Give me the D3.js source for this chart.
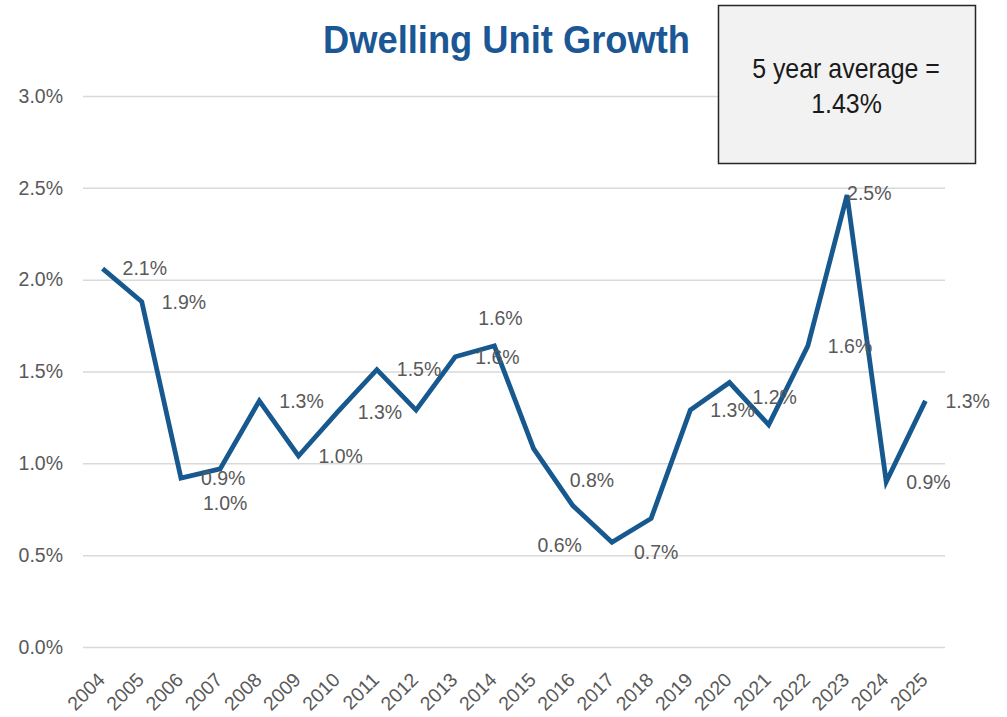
<!DOCTYPE html>
<html>
<head>
<meta charset="utf-8">
<script src="https://cdn.jsdelivr.net/npm/d3@7"></script>
<style>
  html, body { margin: 0; padding: 0; background: #ffffff; }
  svg { display: block; }
  text { font-family: "Liberation Sans", Arial, sans-serif; }
</style>
</head>
<body>
<svg id="chart" width="1007" height="717"></svg>
<script>
// ---------- data ----------
const years = ["2004","2005","2006","2007","2008","2009","2010","2011","2012","2013","2014",
               "2015","2016","2017","2018","2019","2020","2021","2022","2023","2024","2025"];
const growth = [2.06, 1.88, 0.92, 0.97, 1.34, 1.04, 1.28, 1.51, 1.29, 1.58, 1.64,
                1.08, 0.77, 0.57, 0.70, 1.29, 1.44, 1.21, 1.64, 2.46, 0.90, 1.34];
const yTicks = [0, 0.5, 1.0, 1.5, 2.0, 2.5, 3.0];
const titleText = "Dwelling Unit Growth";
const noteLines = ["5 year average =", "1.43%"];

// label placement per point (style only)
const labelPos = ["right","right","right","below","right","right","right","right","none","right","above",
                  "none","aboveRight","left","below","right","none","above","right","rightHigh","right","right"];

// ---------- layout ----------
const svg = d3.select("#chart");
const plot = { left: 83, right: 945, top: 96, bottom: 647 };
const x = d3.scalePoint().domain(years).range([plot.left, plot.right]).padding(0.5);
const y = d3.scaleLinear().domain([0, 3]).range([plot.bottom, plot.top]);
const grey = "#595959";
const lineColor = "#17598e";
const fs = 19.5;

// gridlines + y axis
const yAxis = d3.axisLeft(y).tickValues(yTicks)
  .tickFormat(d => d3.format(".1f")(d) + "%")
  .tickSize(-(plot.right - plot.left)).tickPadding(20);
const gy = svg.append("g").attr("transform", `translate(${plot.left},0)`).call(yAxis);
gy.select(".domain").remove();
gy.selectAll(".tick line").attr("stroke", "#d9d9d9").attr("stroke-width", 1.5);
gy.selectAll(".tick text").attr("fill", grey).attr("font-size", fs)
  .attr("font-family", "Liberation Sans, Arial, sans-serif");

// x axis
const xAxis = d3.axisBottom(x).tickSize(0).tickPadding(0);
const gx = svg.append("g").attr("transform", `translate(0,${plot.bottom})`).call(xAxis);
gx.select(".domain").remove();
gx.selectAll(".tick text")
  .attr("fill", grey).attr("font-size", fs)
  .attr("font-family", "Liberation Sans, Arial, sans-serif")
  .attr("text-anchor", "end")
  .attr("dy", 0)
  .attr("transform", "translate(3,34) rotate(-45)");

// line
const line = d3.line().x((d, i) => x(years[i])).y(d => y(d));
svg.append("path").datum(growth)
  .attr("d", line).attr("fill", "none")
  .attr("stroke", lineColor).attr("stroke-width", 4.8)
  .attr("stroke-linejoin", "miter").attr("stroke-linecap", "butt");

// data labels
const fmt = d => d3.format(".1f")(d) + "%";
const offsets = {
  right:      { dx: 20,  dy: 0,   anchor: "start" },
  rightHigh:  { dx: 0,   dy: -2,  anchor: "start" },
  below:      { dx: 5,   dy: 34,  anchor: "middle" },
  above:      { dx: 6,   dy: -28, anchor: "middle" },
  aboveRight: { dx: -3,  dy: -25, anchor: "start" },
  left:       { dx: -30, dy: 3,   anchor: "end" }
};
const lbl = svg.append("g");
growth.forEach((v, i) => {
  const p = labelPos[i];
  if (p === "none") return;
  const o = offsets[p];
  lbl.append("text")
    .attr("x", x(years[i]) + o.dx)
    .attr("y", y(v) + o.dy)
    .attr("dy", "0.35em")
    .attr("text-anchor", o.anchor)
    .attr("fill", grey).attr("font-size", fs)
    .text(fmt(v));
});

// title
svg.append("text")
  .attr("x", 323).attr("y", 53)
  .attr("font-size", 39).attr("font-weight", "bold")
  .attr("fill", "#1b5795")
  .attr("textLength", 367).attr("lengthAdjust", "spacingAndGlyphs")
  .text(titleText);

// note box
svg.append("rect").attr("x", 718.5).attr("y", 5.5).attr("width", 257).attr("height", 158)
  .attr("fill", "#f2f2f2").attr("stroke", "#262626").attr("stroke-width", 1.5);
const note = svg.append("g");
note.append("text").attr("x", 846).attr("y", 78).attr("text-anchor", "middle")
  .attr("font-size", 28).attr("fill", "#1a1a1a").text(noteLines[0]);
note.append("text").attr("x", 846.5).attr("y", 113).attr("text-anchor", "middle")
  .attr("font-size", 28).attr("fill", "#1a1a1a").text(noteLines[1]);
note.selectAll("text").each(function () {
  const w = this.getComputedTextLength();
  if (w > 0) d3.select(this).attr("textLength", w * 0.89).attr("lengthAdjust", "spacingAndGlyphs");
});
</script>
</body>
</html>
